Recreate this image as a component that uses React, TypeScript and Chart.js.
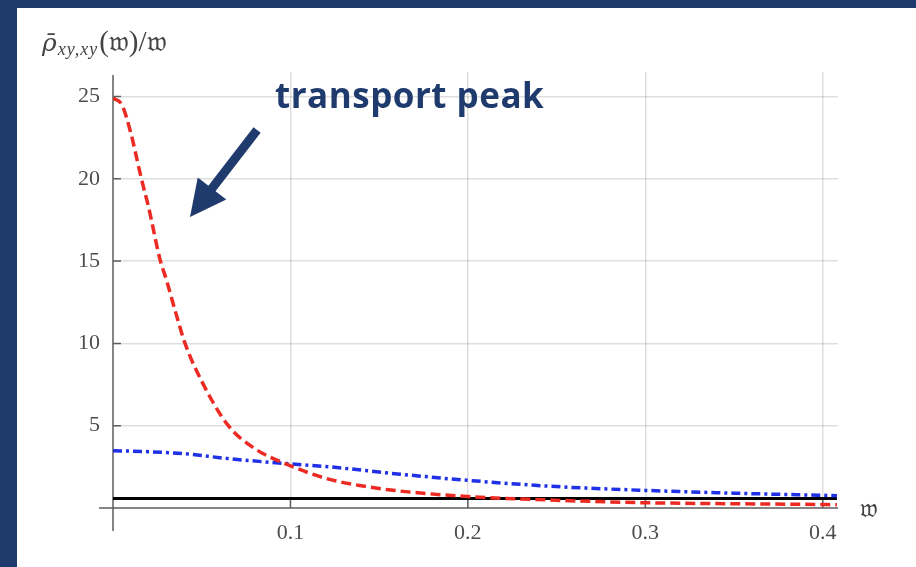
import React, { useEffect, useRef } from "react";
import { Chart, registerables } from "chart.js";
Chart.register(...registerables);

// ---- data ----
const redX = [0, 0.005, 0.01, 0.016, 0.02, 0.0265, 0.03, 0.035, 0.0406, 0.05, 0.065, 0.08, 0.097, 0.12, 0.14, 0.16, 0.2, 0.25, 0.3, 0.35, 0.4, 0.408];
const redY = [24.9, 24.5, 22.8, 20.0, 18.3, 15.1, 13.9, 12.0, 10.0, 7.7, 5.0, 3.6, 2.7, 1.8, 1.35, 1.05, 0.7, 0.47, 0.32, 0.26, 0.21, 0.2];
const blueX = [0, 0.02, 0.04, 0.065, 0.097, 0.122, 0.162, 0.2, 0.25, 0.3, 0.35, 0.4, 0.408];
const blueY = [3.48, 3.42, 3.3, 3.0, 2.7, 2.5, 2.05, 1.68, 1.3, 1.07, 0.9, 0.77, 0.75];
const blackX = [0, 0.408];
const blackY = [0.58, 0.58];
const xTicks = [0.1, 0.2, 0.3, 0.4];
const yTicks = [5, 10, 15, 20, 25];
const xMax = 0.4086;
const yMax = 26.49;
const annotationText = "transport peak";
const yAxisTitle = { main: "ρ̄", sub: "xy,xy", rest: "(𝔴)/𝔴" };
const xAxisTitle = "𝔴";

const NAVY = "#1f3a6c";
const TICK_FONT = { family: "Liberation Serif", size: 22 };
const TICK_COLOR = "#4d4d4d";
const AXIS_COLOR = "#5e5e5e";
const GRID_COLOR = "rgba(0,0,0,0.13)";

const toPts = (xs: number[], ys: number[]) => xs.map((x, i) => ({ x, y: ys[i] }));

const decorPlugin = {
  id: "decor",
  beforeDraw(chart: any) {
    const ctx = chart.ctx;
    ctx.save();
    ctx.fillStyle = NAVY;
    ctx.fillRect(0, 0, chart.width, chart.height);
    ctx.fillStyle = "#ffffff";
    ctx.fillRect(17, 8, chart.width - 17, chart.height - 8);
    ctx.restore();
  },
  beforeDatasetsDraw(chart: any) {
    const ctx = chart.ctx;
    const xs = chart.scales.x;
    const ys = chart.scales.y;
    const x0 = xs.getPixelForValue(0);
    const y0 = ys.getPixelForValue(0);
    const ca = chart.chartArea;
    ctx.save();
    ctx.strokeStyle = AXIS_COLOR;
    ctx.lineWidth = 1.5;
    ctx.beginPath();
    ctx.moveTo(x0, ca.top + 3);
    ctx.lineTo(x0, y0 + 23);
    ctx.moveTo(x0 - 14, y0);
    ctx.lineTo(ca.right, y0);
    yTicks.forEach((v) => {
      const p = ys.getPixelForValue(v);
      ctx.moveTo(x0, p);
      ctx.lineTo(x0 + 8, p);
    });
    xTicks.forEach((v) => {
      const p = xs.getPixelForValue(v);
      ctx.moveTo(p, y0);
      ctx.lineTo(p, y0 - 8);
    });
    ctx.stroke();
    ctx.restore();
  },
  afterDraw(chart: any) {
    const ctx = chart.ctx;
    const xs = chart.scales.x;
    const ys = chart.scales.y;
    ctx.save();
    // y-axis title
    let cx = 42;
    const base = 51;
    ctx.fillStyle = "#444";
    ctx.textBaseline = "alphabetic";
    ctx.font = 'italic 25px "DejaVu Serif"';
    ctx.fillText(yAxisTitle.main, cx, base);
    cx += ctx.measureText(yAxisTitle.main).width + 1;
    ctx.font = 'italic 18px "Liberation Serif"';
    (ctx as any).letterSpacing = "1px";
    ctx.fillText(yAxisTitle.sub, cx, base + 4);
    cx += ctx.measureText(yAxisTitle.sub).width + 1;
    (ctx as any).letterSpacing = "0px";
    ctx.font = '29px "Liberation Serif"';
    ctx.fillText(yAxisTitle.rest, cx, base);
    // x-axis title
    ctx.textBaseline = "middle";
    ctx.font = '26px "Liberation Serif"';
    ctx.fillText(xAxisTitle, 860, 510);
    // annotation
    ctx.fillStyle = NAVY;
    ctx.textBaseline = "alphabetic";
    ctx.font = '700 35px "Open Sans"';
    (ctx as any).letterSpacing = "0.5px";
    ctx.fillText(annotationText, xs.getPixelForValue(0.0913), ys.getPixelForValue(24.3));
    (ctx as any).letterSpacing = "0px";
    // arrow
    const tx = xs.getPixelForValue(0.0434), ty = ys.getPixelForValue(17.68);
    const sx = xs.getPixelForValue(0.0812), sy = ys.getPixelForValue(22.96);
    const dx = tx - sx, dy = ty - sy;
    const len = Math.hypot(dx, dy);
    const ux = dx / len, uy = dy / len;
    const headLen = 36, headHalf = 18;
    const bx = tx - ux * headLen, by = ty - uy * headLen;
    ctx.strokeStyle = NAVY;
    ctx.lineWidth = 9;
    ctx.lineCap = "butt";
    ctx.beginPath();
    ctx.moveTo(sx, sy);
    ctx.lineTo(bx + ux * 2, by + uy * 2);
    ctx.stroke();
    ctx.fillStyle = NAVY;
    ctx.beginPath();
    ctx.moveTo(tx, ty);
    ctx.lineTo(bx - uy * headHalf, by + ux * headHalf);
    ctx.lineTo(bx + uy * headHalf, by - ux * headHalf);
    ctx.closePath();
    ctx.fill();
    ctx.restore();
  },
};

export default function App() {
  const ref = useRef<HTMLCanvasElement>(null);
  useEffect(() => {
    if (!ref.current) return;
    const chart = new Chart(ref.current, {
      type: "scatter",
      data: {
        datasets: [
          {
            data: toPts(redX, redY),
            showLine: true,
            borderColor: "#ec2a22",
            borderWidth: 3.5,
            borderDash: [10, 5],
            pointRadius: 0,
            cubicInterpolationMode: "monotone",
            fill: false,
          },
          {
            data: toPts(blueX, blueY),
            showLine: true,
            borderColor: "#1f30e6",
            borderWidth: 3.5,
            borderDash: [9, 4, 3, 4],
            pointRadius: 0,
            cubicInterpolationMode: "monotone",
            fill: false,
          },
          {
            data: toPts(blackX, blackY),
            showLine: true,
            borderColor: "#000000",
            borderWidth: 3,
            pointRadius: 0,
            fill: false,
          },
        ],
      },
      options: {
        animation: false,
        responsive: false,
        devicePixelRatio: 1,
        layout: { padding: { left: 0, top: 72, right: 78, bottom: 0 } },
        plugins: { legend: { display: false }, tooltip: { enabled: false } },
        scales: {
          x: {
            type: "linear",
            min: 0,
            max: xMax,
            afterBuildTicks: (s: any) => {
              s.ticks = xTicks.map((v) => ({ value: v }));
            },
            afterFit: (s: any) => {
              s.height = 59;
            },
            grid: { color: GRID_COLOR, lineWidth: 1.5, drawTicks: false },
            border: { display: false },
            ticks: {
              font: TICK_FONT,
              color: TICK_COLOR,
              padding: 12,
              maxRotation: 0,
              autoSkip: false,
              callback: (v: any) => Number(v).toFixed(1),
            },
          },
          y: {
            type: "linear",
            min: 0,
            max: yMax,
            afterBuildTicks: (s: any) => {
              s.ticks = yTicks.map((v) => ({ value: v }));
            },
            afterFit: (s: any) => {
              s.width = 113;
            },
            grid: { color: GRID_COLOR, lineWidth: 1.5, drawTicks: false },
            border: { display: false },
            ticks: {
              font: TICK_FONT,
              color: TICK_COLOR,
              padding: 13,
              autoSkip: false,
              callback: (v: any) => String(v),
            },
          },
        },
      },
      plugins: [decorPlugin],
    });
    return () => chart.destroy();
  }, []);
  return (
    <div style={{ position: "fixed", left: 0, top: 0, width: 916, height: 567 }}>
      <canvas ref={ref} width={916} height={567} style={{ display: "block" }} />
    </div>
  );
}
